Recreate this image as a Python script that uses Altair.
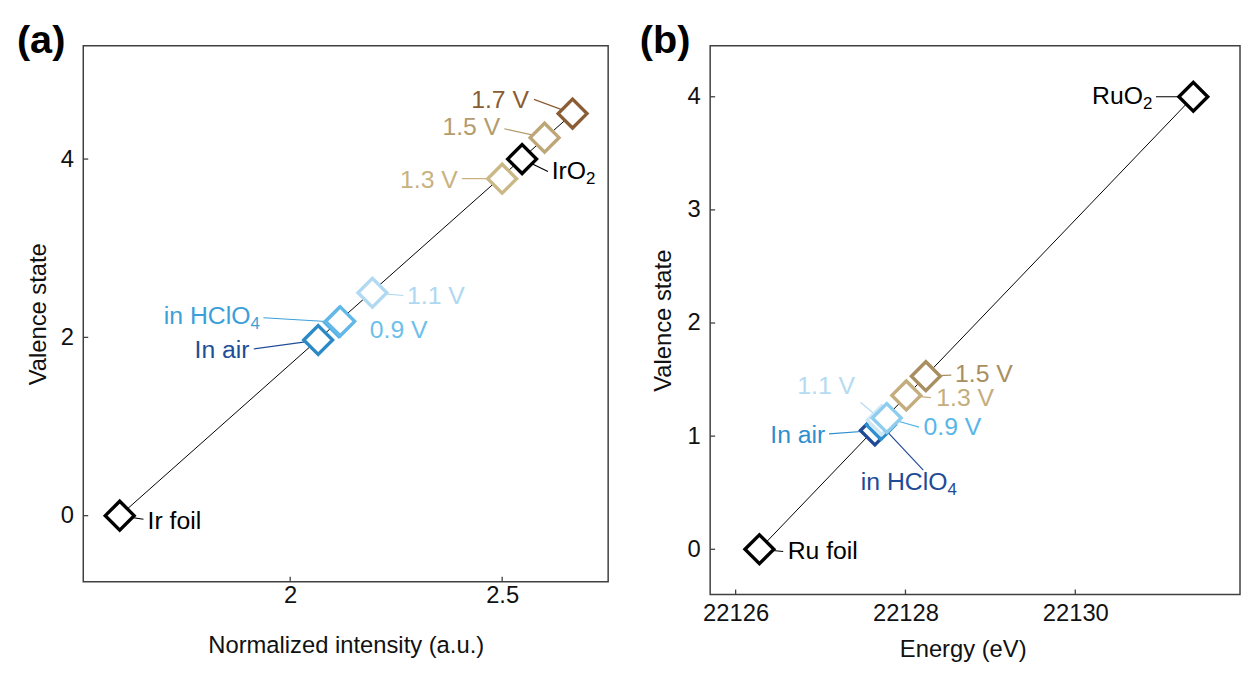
import altair as alt
import pandas as pd

FONT = "Liberation Sans"
LABEL_SIZE = 25
SUB_SIZE = 17
AXIS_SIZE = 24

# ---------------- panel (a): Ir, normalized white-line intensity ----------------
a_names = ["Ir foil", "In air", "in HClO4", "0.9 V", "1.1 V", "1.3 V", "IrO2", "1.5 V", "1.7 V"]
a_main = ["Ir foil", "In air", "in HClO", "0.9 V", "1.1 V", "1.3 V", "IrO", "1.5 V", "1.7 V"]
a_sub = ["", "", "4", "", "", "", "2", "", ""]
a_intensity = [1.598, 2.066, 2.115, 2.118, 2.194, 2.500, 2.547, 2.600, 2.666]
a_valence = [0.00, 1.97, 2.17, 2.18, 2.50, 3.78, 4.00, 4.24, 4.51]
a_marker_color = ["#000000", "#2b8ac6", "#56b1e4", "#62b8e8", "#b0d9f2",
                  "#cbb887", "#000000", "#bea777", "#8b5d35"]
a_text_color = ["#000000", "#1f4e98", "#3d9fd9", "#6dbfea", "#aed8f2",
                "#c7b280", "#000000", "#b39c6c", "#8a5c33"]
a_label_x = [1.659, 1.909, 1.933, 2.183, 2.271, 2.400, 2.612, 2.500, 2.568]
a_label_y = [-0.06, 1.86, 2.24, 2.08, 2.46, 3.77, 3.86, 4.36, 4.66]
a_label_align = ["left", "right", "right", "left", "left", "right", "left", "right", "right"]
a_leader_x = [1.654, 1.914, 1.937, None, 2.267, 2.405, 2.608, 2.505, 2.575]
a_leader_y = [-0.04, 1.87, 2.22, None, 2.47, 3.78, 3.86, 4.34, 4.67]
a_xticks = [2, 2.5]
a_yticks = [0, 2, 4]
a_xrange = [1.512, 2.75]
a_yrange = [-0.74, 5.27]

# ---------------- panel (b): Ru, edge energy ----------------
b_names = ["Ru foil", "In air", "in HClO4", "1.1 V", "0.9 V", "1.3 V", "1.5 V", "RuO2"]
b_main = ["Ru foil", "In air", "in HClO", "1.1 V", "0.9 V", "1.3 V", "1.5 V", "RuO"]
b_sub = ["", "", "4", "", "", "", "", "2"]
b_energy = [22126.28, 22127.64, 22127.71, 22127.72, 22127.78, 22128.01, 22128.24, 22131.39]
b_valence = [0.00, 1.05, 1.10, 1.14, 1.16, 1.36, 1.53, 4.00]
b_marker_color = ["#000000", "#1f4b96", "#2e8fce", "#cfe8f7", "#8fcdee",
                  "#c3ad7d", "#a88e60", "#000000"]
b_text_color = ["#000000", "#2e8fce", "#1f4b96", "#b5dbf2", "#58b6e9",
                "#c3ad7d", "#a88e60", "#000000"]
b_label_x = [22126.59, 22127.08, 22127.45, 22127.43, 22128.19, 22128.34, 22128.56, 22130.93]
b_label_y = [-0.02, 1.01, 0.59, 1.44, 1.08, 1.34, 1.55, 4.01]
b_label_align = ["left", "right", "left", "right", "left", "left", "left", "right"]
b_leader_x = [22126.56, 22127.10, 22128.21, 22127.47, 22128.16, 22128.30, 22128.54, 22130.95]
b_leader_y = [-0.02, 1.02, 0.70, 1.30, 1.08, 1.34, 1.54, 4.00]
b_xticks = [22126, 22128, 22130]
b_yticks = [0, 1, 2, 3, 4]
b_xrange = [22125.70, 22131.94]
b_yrange = [-0.40, 4.45]

# Arial / Liberation Sans advance widths (per 1000 em) for subscript placement
ADV = {"I": 278, "r": 333, "O": 778, "i": 222, "n": 556, " ": 278, "H": 722,
       "C": 722, "l": 222, "R": 722, "u": 556}


def text_width(s, size):
    return sum(ADV.get(ch, 556) for ch in s) * size / 1000.0


def panel(names, main, sub, xs, ys, mcol, tcol, lab_x, lab_y, lab_align,
          lead_x, lead_y, xticks, yticks, xrange_, yrange_, W, H,
          xtitle, letter, letter_dx, xlab_pad, xtitle_pad, ylab_pad, ytitle_pad,
          xtitle_x=None):
    xsc = alt.Scale(domain=xrange_, nice=False, zero=False)
    ysc = alt.Scale(domain=yrange_, nice=False, zero=False)

    pts = pd.DataFrame({"name": names, "x": xs, "y": ys, "stroke": mcol})
    order = sorted(range(len(xs)), key=lambda i: xs[i])
    line_df = pts.iloc[[order[0], order[-1]]]

    x_axis = alt.Axis(values=xticks, labelExpr="datum.value + ''", ticks=False,
                      domain=False, grid=False, labelFont=FONT, labelFontSize=AXIS_SIZE,
                      labelColor="#111111", labelPadding=xlab_pad, labelFlush=False,
                      title=xtitle, titleFont=FONT, titleFontSize=AXIS_SIZE,
                      titleFontWeight="normal", titleColor="#111111",
                      titlePadding=xtitle_pad,
                      **({"titleX": xtitle_x} if xtitle_x is not None else {}))
    y_axis = alt.Axis(values=yticks, labelExpr="datum.value + ''", ticks=False,
                      domain=False, grid=False, labelFont=FONT, labelFontSize=AXIS_SIZE,
                      labelColor="#111111", labelPadding=ylab_pad,
                      title="Valence state", titleFont=FONT, titleFontSize=AXIS_SIZE,
                      titleFontWeight="normal", titleColor="#111111",
                      titlePadding=ytitle_pad)

    def X(f):
        return alt.X(f, scale=xsc, axis=x_axis, title=xtitle)

    def Y(f):
        return alt.Y(f, scale=ysc, axis=y_axis, title="Valence state")

    layers = []
    layers.append(
        alt.Chart(line_df).mark_line(color="#000000", strokeWidth=1).encode(
            x=X("x:Q"), y=Y("y:Q"),
        )
    )

    lead_rows = []
    for i in range(len(names)):
        if lead_x[i] is None:
            continue
        lead_rows.append({"x": xs[i], "y": ys[i], "x2": lead_x[i], "y2": lead_y[i],
                          "c": tcol[i]})
    layers.append(
        alt.Chart(pd.DataFrame(lead_rows)).mark_rule(strokeWidth=1.2).encode(
            x=X("x:Q"), y=Y("y:Q"),
            x2="x2:Q", y2="y2:Q",
            color=alt.Color("c:N", scale=None),
        )
    )

    layers.append(
        alt.Chart(pts).mark_point(shape="diamond", size=850, strokeWidth=3.4,
                                  opacity=1, fillOpacity=1, strokeOpacity=1).encode(
            x=X("x:Q"), y=Y("y:Q"),
            stroke=alt.Stroke("stroke:N", scale=None),
            fill=alt.value("white"),
        )
    )

    for i in range(len(names)):
        row = pd.DataFrame({"x": [lab_x[i]], "y": [lab_y[i]], "t": [main[i]], "s": [sub[i]]})
        al = lab_align[i]
        subw = text_width(sub[i], SUB_SIZE) if sub[i] else 0.0
        mainw = text_width(main[i], LABEL_SIZE)
        if al == "left":
            main_dx, sub_dx = 2, 2 + mainw
        else:
            main_dx, sub_dx = -2 - subw, -2
        layers.append(
            alt.Chart(row).mark_text(align=al, baseline="middle", font=FONT,
                                     fontSize=LABEL_SIZE, dx=main_dx,
                                     color=tcol[i]).encode(
                x=X("x:Q"), y=Y("y:Q"), text="t:N",
            )
        )
        if sub[i]:
            layers.append(
                alt.Chart(row).mark_text(align=al, baseline="middle", font=FONT,
                                         fontSize=SUB_SIZE, dx=sub_dx, dy=8,
                                         color=tcol[i]).encode(
                    x=X("x:Q"), y=Y("y:Q"), text="s:N",
                )
            )

    # inward tick marks
    layers.append(
        alt.Chart(pd.DataFrame({"v": xticks})).mark_rule(color="#404040", strokeWidth=1.3).encode(
            x=X("v:Q"),
            y=alt.value(H), y2=alt.value(H - 5),
        )
    )
    layers.append(
        alt.Chart(pd.DataFrame({"v": yticks})).mark_rule(color="#404040", strokeWidth=1.3).encode(
            y=Y("v:Q"),
            x=alt.value(0), x2=alt.value(5),
        )
    )

    layers.append(
        alt.Chart(pd.DataFrame({"t": [letter]})).mark_text(
            align="left", baseline="alphabetic", font=FONT, fontSize=40,
            fontWeight="bold", color="#000000").encode(
            x=alt.value(letter_dx), y=alt.value(7), text="t:N")
    )

    return alt.layer(*layers).properties(width=W, height=H)


pa = panel(a_names, a_main, a_sub, a_intensity, a_valence, a_marker_color, a_text_color,
           a_label_x, a_label_y, a_label_align, a_leader_x, a_leader_y,
           a_xticks, a_yticks, a_xrange, a_yrange, 530, 541,
           "Normalized intensity (a.u.)", "(a)", -67, 2, 27, 10, 10)
pb = panel(b_names, b_main, b_sub, b_energy, b_valence, b_marker_color, b_text_color,
           b_label_x, b_label_y, b_label_align, b_leader_x, b_leader_y,
           b_xticks, b_yticks, b_xrange, b_yrange, 535, 554,
           "Energy (eV)", "(b)", -71, 7, 13, 10, 12, xtitle_x=255)

chart = alt.hconcat(pa, pb, spacing=103, bounds="flush").properties(
    padding={"left": 8, "top": 9, "right": 0, "bottom": 5}
).configure_view(stroke="#404040", strokeWidth=1.5)

chart.save("out.html", embed_options={"renderer": "svg", "actions": False})
